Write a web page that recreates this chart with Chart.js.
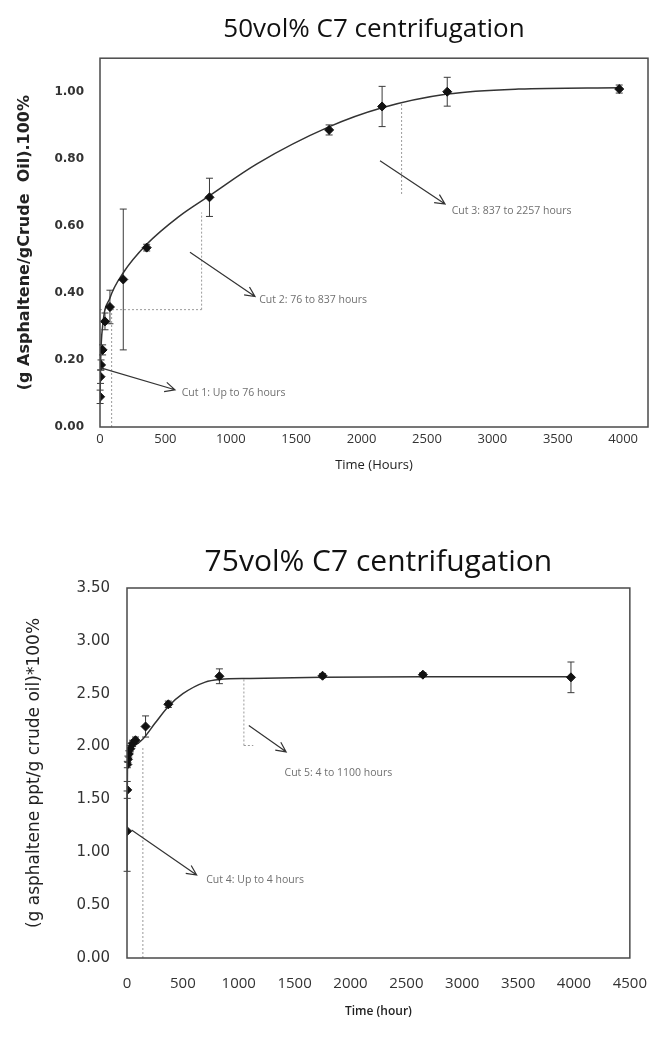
<!DOCTYPE html>
<html>
<head>
<meta charset="utf-8">
<script src="https://cdn.jsdelivr.net/npm/chart.js@4.4.0/dist/chart.umd.min.js"></script>
<style>
  html, body { margin: 0; padding: 0; background: #fff; }
  .box { position: absolute; left: 0; width: 664px; height: 519px; }
  #top { top: 0; }
  #bottom { top: 519px; }
</style>
</head>
<body>
<div class="box" id="top"><canvas id="chart50" width="664" height="519"></canvas></div>
<div class="box" id="bottom"><canvas id="chart75" width="664" height="519"></canvas></div>
<script>
"use strict";

// ---- 50vol% C7 centrifugation ----
const hours50 = [1, 4, 8, 20, 38, 76, 178, 357, 837, 1752, 2157, 2655, 3970];
const yield50 = [0.09, 0.15, 0.185, 0.23, 0.315, 0.358, 0.44, 0.535, 0.685, 0.886, 0.956, 1.0, 1.008];
const err50 = [0.02, 0.02, 0.015, 0.015, 0.025, 0.05, 0.21, 0.01, 0.057, 0.015, 0.06, 0.043, 0.012];
// trend curve
const fitHours50 = [0, 5, 20, 76, 178, 357, 600, 837, 1200, 1750, 2157, 2655, 3200, 3970];
const fitYield50 = [0.08, 0.2, 0.3, 0.385, 0.46, 0.545, 0.627, 0.69, 0.785, 0.895, 0.952, 0.993, 1.008, 1.012];
const xTicks50 = [0, 500, 1000, 1500, 2000, 2500, 3000, 3500, 4000];
const yTicks50 = [0, 0.2, 0.4, 0.6, 0.8, 1.0];
// cut markers: [t1, y1, t2, y2] and labels [t, y, text]
const cutLines50 = [[89, 0, 89, 0.35], [0, 0.35, 777, 0.35], [777, 0.35, 777, 0.64], [2306, 0.695, 2306, 0.964]];
const cutArrows50 = [[0, 0.177, 573, 0.111], [688, 0.521, 1185, 0.389], [2141, 0.794, 2638, 0.665]];
const cutLabels50 = [[625, 0.102, "Cut 1: Up to 76 hours"], [1217, 0.38, "Cut 2: 76 to 837 hours"], [2689, 0.645, "Cut 3: 837 to 2257 hours"]];

// ---- 75vol% C7 centrifugation ----
const hours75 = [1, 2, 3, 8, 16, 30, 50, 76, 166, 370, 827, 1750, 2648, 3973];
const yield75 = [1.2, 1.59, 1.83, 1.88, 1.93, 1.98, 2.03, 2.06, 2.19, 2.40, 2.665, 2.67, 2.68, 2.655];
const err75 = [0.38, 0.08, 0.03, 0.03, 0.03, 0.03, 0.03, 0.03, 0.1, 0.03, 0.07, 0.02, 0.02, 0.145];
const fitHours75 = [0, 4, 10, 40, 140, 250, 370, 500, 700, 830, 1100, 1750, 2650, 3975];
const fitYield75 = [1.2, 1.8, 1.97, 2.0, 2.07, 2.22, 2.38, 2.5, 2.61, 2.635, 2.645, 2.655, 2.66, 2.66];
const xTicks75 = [0, 500, 1000, 1500, 2000, 2500, 3000, 3500, 4000, 4500];
const yTicks75 = [0, 0.5, 1.0, 1.5, 2.0, 2.5, 3.0, 3.5];
const cutLines75 = [[142, 0, 142, 2.0], [1046, 2.01, 1046, 2.64], [1046, 2.01, 1130, 2.01]];
const cutArrows75 = [[41, 1.21, 623, 0.785], [1090, 2.20, 1424, 1.95]];
const cutLabels75 = [[709, 0.74, "Cut 4: Up to 4 hours"], [1410, 1.75, "Cut 5: 4 to 1100 hours"]];

function toPoints(xs, ys) {
  return xs.map((x, i) => ({ x: x, y: ys[i] }));
}

// vertical error bars with small caps
const errorBarPlugin = {
  id: "errorBars",
  beforeDatasetsDraw(chart) {
    const ctx = chart.ctx;
    const yScale = chart.scales.y;
    chart.data.datasets.forEach((ds, i) => {
      if (!ds.errors) return;
      const meta = chart.getDatasetMeta(i);
      ctx.save();
      ctx.strokeStyle = "#3a3a3a";
      ctx.lineWidth = 1;
      meta.data.forEach((pt, j) => {
        const e = ds.errors[j];
        const v = ds.data[j].y;
        const top = yScale.getPixelForValue(v + e);
        const bot = yScale.getPixelForValue(v - e);
        ctx.beginPath();
        ctx.moveTo(pt.x, top);
        ctx.lineTo(pt.x, bot);
        ctx.moveTo(pt.x - 3.5, top);
        ctx.lineTo(pt.x + 3.5, top);
        ctx.moveTo(pt.x - 3.5, bot);
        ctx.lineTo(pt.x + 3.5, bot);
        ctx.stroke();
      });
      ctx.restore();
    });
  }
};

// dotted cut lines, arrows and their notes
const cutsPlugin = {
  id: "cuts",
  beforeDatasetsDraw(chart, args, opts) {
    const ctx = chart.ctx;
    const xs = chart.scales.x, ys = chart.scales.y;
    ctx.save();
    ctx.strokeStyle = "#9a9a9a";
    ctx.lineWidth = 1;
    ctx.setLineDash([2, 2]);
    (opts.lines || []).forEach((l) => {
      ctx.beginPath();
      ctx.moveTo(xs.getPixelForValue(l[0]), ys.getPixelForValue(l[1]));
      ctx.lineTo(xs.getPixelForValue(l[2]), ys.getPixelForValue(l[3]));
      ctx.stroke();
    });
    ctx.restore();
  },
  afterDatasetsDraw(chart, args, opts) {
    const ctx = chart.ctx;
    const xs = chart.scales.x, ys = chart.scales.y;
    ctx.save();
    ctx.strokeStyle = "#333";
    ctx.lineWidth = 1.2;
    (opts.arrows || []).forEach((a) => {
      const x1 = xs.getPixelForValue(a[0]), y1 = ys.getPixelForValue(a[1]);
      const x2 = xs.getPixelForValue(a[2]), y2 = ys.getPixelForValue(a[3]);
      const ang = Math.atan2(y2 - y1, x2 - x1);
      ctx.beginPath();
      ctx.moveTo(x1, y1);
      ctx.lineTo(x2, y2);
      ctx.moveTo(x2 - 11 * Math.cos(ang - 0.45), y2 - 11 * Math.sin(ang - 0.45));
      ctx.lineTo(x2, y2);
      ctx.lineTo(x2 - 11 * Math.cos(ang + 0.45), y2 - 11 * Math.sin(ang + 0.45));
      ctx.stroke();
    });
    ctx.fillStyle = "#707070";
    ctx.font = "10.5px 'Open Sans'";
    ctx.textBaseline = "middle";
    (opts.labels || []).forEach((t) => {
      ctx.fillText(t[2], xs.getPixelForValue(t[0]), ys.getPixelForValue(t[1]));
    });
    ctx.restore();
  }
};

// plot frame on all four sides
const framePlugin = {
  id: "frame",
  afterDraw(chart) {
    const a = chart.chartArea;
    const ctx = chart.ctx;
    ctx.save();
    ctx.strokeStyle = "#4a4a4a";
    ctx.lineWidth = 1.5;
    ctx.strokeRect(a.left, a.top, a.right - a.left, a.bottom - a.top);
    ctx.restore();
  }
};

function renderChart(id, cfg) {
  const ctx = document.getElementById(id).getContext("2d");
  return new Chart(ctx, {
    type: "scatter",
    data: {
      datasets: [
        {
          data: toPoints(cfg.hours, cfg.values),
          errors: cfg.errors,
          showLine: false,
          pointStyle: "rectRot",
          pointRadius: 4.5,
          backgroundColor: "#111",
          borderColor: "#111",
          order: 0
        },
        {
          data: toPoints(cfg.fitHours, cfg.fitValues),
          showLine: true,
          pointRadius: 0,
          borderColor: "#333",
          borderWidth: 1.5,
          cubicInterpolationMode: "monotone",
          order: 1
        }
      ]
    },
    options: {
      responsive: false,
      animation: false,
      layout: { padding: { right: cfg.padRight } },
      plugins: {
        legend: { display: false },
        tooltip: { enabled: false },
        title: {
          display: true,
          fullSize: false,
          text: cfg.title,
          color: "#111",
          font: { family: "'Open Sans'", size: cfg.titleSize, weight: "normal" },
          padding: cfg.titlePad
        },
        cuts: cfg.cuts
      },
      scales: {
        x: {
          type: "linear",
          min: 0,
          max: cfg.xMax,
          afterBuildTicks: (s) => { s.ticks = cfg.xTicks.map((v) => ({ value: v })); },
          afterFit: (s) => { s.height = cfg.xAxisHeight; },
          grid: { display: false, drawTicks: false },
          border: { display: false },
          ticks: {
            maxRotation: 0,
            autoSkip: false,
            padding: cfg.xTickPad,
            color: "#333",
            font: { family: "'Open Sans'", size: cfg.xTickSize },
            callback: (v) => String(v)
          },
          title: {
            display: true,
            text: cfg.xTitle,
            color: "#222",
            font: { family: "'Open Sans'", size: cfg.xTitleSize, weight: cfg.xTitleWeight },
            padding: { top: 0, bottom: cfg.xTitlePad }
          }
        },
        y: {
          min: 0,
          max: cfg.yMax,
          afterBuildTicks: (s) => { s.ticks = cfg.yTicks.map((v) => ({ value: v })); },
          afterFit: (s) => { s.width = cfg.yAxisWidth; },
          grid: { display: false, drawTicks: false },
          border: { display: false },
          ticks: {
            autoSkip: false,
            padding: cfg.yTickPad,
            color: "#333",
            font: { family: "'DejaVu Sans'", size: cfg.yTickSize, weight: cfg.yTickWeight },
            callback: (v) => v.toFixed(2)
          },
          title: {
            display: true,
            text: cfg.yTitle,
            color: "#222",
            font: { family: "'DejaVu Sans'", size: cfg.yTitleSize, weight: cfg.yTitleWeight },
            padding: { top: cfg.yTitlePad, bottom: 0 }
          }
        }
      }
    },
    plugins: [errorBarPlugin, cutsPlugin, framePlugin]
  });
}

renderChart("chart50", {
  title: "50vol% C7 centrifugation",
  titleSize: 26,
  titlePad: { top: 14, bottom: 13 },
  hours: hours50, values: yield50, errors: err50,
  fitHours: fitHours50, fitValues: fitYield50,
  cuts: { lines: cutLines50, arrows: cutArrows50, labels: cutLabels50 },
  xMax: 4190, yMax: 1.1, xTicks: xTicks50, yTicks: yTicks50,
  padRight: 16,
  xAxisHeight: 92, xTickPad: 4, xTickSize: 13,
  xTitle: "Time (Hours)", xTitleSize: 13, xTitleWeight: "normal", xTitlePad: 46,
  yAxisWidth: 100, yTickPad: 16, yTickSize: 12, yTickWeight: "bold",
  yTitle: "(g Asphaltene/gCrude  Oil).100%", yTitleSize: 16, yTitleWeight: "bold", yTitlePad: 15
});

renderChart("chart75", {
  title: "75vol% C7 centrifugation",
  titleSize: 30,
  titlePad: { top: 25, bottom: 8 },
  hours: hours75, values: yield75, errors: err75,
  fitHours: fitHours75, fitValues: fitYield75,
  cuts: { lines: cutLines75, arrows: cutArrows75, labels: cutLabels75 },
  xMax: 4500, yMax: 3.5, xTicks: xTicks75, yTicks: yTicks75,
  padRight: 22,
  xAxisHeight: 80, xTickPad: 17, xTickSize: 15,
  xTitle: "Time (hour)", xTitleSize: 12, xTitleWeight: "600", xTitlePad: 19,
  yAxisWidth: 127, yTickPad: 17, yTickSize: 15, yTickWeight: "normal",
  yTitle: "(g asphaltene ppt/g crude oil)*100%", yTitleSize: 17, yTitleWeight: "normal", yTitlePad: 24
});
</script>
</body>
</html>
